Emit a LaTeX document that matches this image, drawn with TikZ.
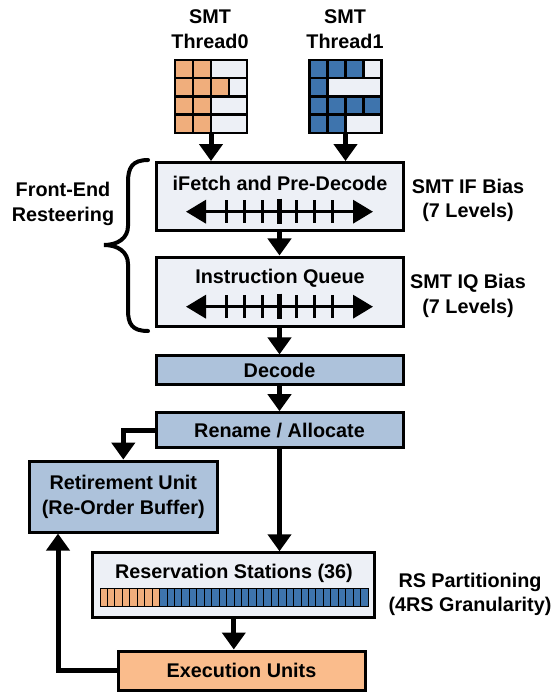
\documentclass[tikz,border=0pt]{standalone}
\usepackage{fontspec}
\setmainfont{Liberation Sans}
\usetikzlibrary{arrows.meta}
\definecolor{lightbox}{HTML}{EDF0F6}
\definecolor{midblue}{HTML}{ADC2DB}
\definecolor{orcell}{HTML}{F0AE7C}
\definecolor{blcell}{HTML}{3E74AD}
\definecolor{exorange}{HTML}{FABC8C}
\tikzset{
  every node/.style={font=\bfseries\fontsize{19.8}{24.5}\selectfont},
  lbl/.style={inner sep=0pt, align=center},
  boxl/.style={draw=black, line width=3pt, fill=lightbox, inner sep=0pt},
  boxm/.style={draw=black, line width=3pt, fill=midblue, inner sep=0pt},
  boxo/.style={draw=black, line width=3pt, fill=exorange, inner sep=0pt},
  arr/.style={line width=5pt, -{Triangle[width=23pt,length=17pt]}},
  slider/.style={line width=3.5pt, {Triangle[width=23pt,length=20pt]}-{Triangle[width=23pt,length=20pt]}},
  tick/.style={line width=3pt},
  cellor/.style={fill=orcell, draw=black, line width=2.5pt},
  cellbl/.style={fill=blcell, draw=black, line width=2.5pt},
  celllt/.style={fill=lightbox, draw=black, line width=2.5pt},
  rsor/.style={fill=orcell, draw=black, line width=0.8pt},
  rsbl/.style={fill=blcell, draw=black, line width=0.8pt},
}
\begin{document}
\begin{tikzpicture}[x=1pt,y=-1pt]
\useasboundingbox (0,0) rectangle (558,692);

% thread labels
\node[lbl] (t0lbl) at (210,29) {SMT\\Thread0};
\node[lbl] (t1lbl) at (345,29) {SMT\\Thread1};

% thread0 grid
\foreach \c in {0,1} \foreach \r in {0,1,2,3}
  \draw[cellor] (175+18*\c,60+18.25*\r) rectangle ++(18,18.25);
\draw[cellor] (211,78.25) rectangle ++(18,18.25);
\draw[celllt] (211,60) rectangle (247,78.25);
\draw[celllt] (229,78.25) rectangle (247,96.5);
\draw[celllt] (211,96.5) rectangle (247,114.75);
\draw[celllt] (211,114.75) rectangle (247,133);
\coordinate (g0) at (211,133);

% thread1 grid
\foreach \c in {0,1,2} \draw[cellbl] (309.5+18*\c,60) rectangle ++(18,18.25);
\draw[celllt] (363.5,60) rectangle (381.5,78.25);
\draw[cellbl] (309.5,78.25) rectangle ++(18,18.25);
\draw[celllt] (327.5,78.25) rectangle (381.5,96.5);
\foreach \c in {0,1,2,3} \draw[cellbl] (309.5+18*\c,96.5) rectangle ++(18,18.25);
\foreach \c in {0,1} \draw[cellbl] (309.5+18*\c,114.75) rectangle ++(18,18.25);
\draw[celllt] (345.5,114.75) rectangle (381.5,133);
\coordinate (g1) at (345.5,133);

% boxes
\node[boxl, minimum width=247pt, minimum height=67.5pt] (ifetch) at (279.5,196.3) {};
\node[boxl, minimum width=247pt, minimum height=69pt] (iq) at (279.5,291.5) {};
\node[boxm, minimum width=247pt, minimum height=28.5pt] (decode) at (279.5,370.2) {};
\node[boxm, minimum width=247pt, minimum height=35pt] (rename) at (279.5,430.2) {};
\node[boxm, minimum width=188pt, minimum height=71pt] (ret) at (123.3,496.6) {};
\node[boxl, minimum width=282pt, minimum height=65pt] (rs) at (233.8,585.3) {};
\node[boxo, minimum width=247pt, minimum height=39pt] (exec) at (241.5,670.5) {};

% box texts
\node[lbl] (ifetchtxt) at (280,183) {iFetch and Pre-Decode};
\node[lbl] (iqtxt) at (280,278) {Instruction Queue};
\node[lbl] (dectxt) at (279.5,370.2) {Decode};
\node[lbl] (rentxt) at (279.5,430.2) {Rename / Allocate};
\node[lbl] (rettxt) at (123.3,497) {Retirement Unit\\(Re-Order Buffer)};
\node[lbl] (rstxt) at (234,573) {Reservation Stations (36)};
\node[lbl] (exectxt) at (241.5,670.5) {Execution Units};

% sliders
\foreach \yy/\nm in {211.7/a,306.7/b} {
  \coordinate (sl\nm l) at (186,\yy);
  \coordinate (sl\nm r) at (373,\yy);
  \draw[slider] (sl\nm l) -- (sl\nm r);
  \foreach \xx in {226,244.3,262,296.7,314.7,332.7}
    \draw[tick] (\xx,\yy-11.5) -- (\xx,\yy+11);
  \draw[line width=4.5pt] (279.3,\yy-13) -- (279.3,\yy+12);
}

% RS bar
\foreach \i in {0,...,7} \draw[rsor] (100+7.444*\i,588) rectangle ++(7.444,18.7);
\foreach \i in {8,...,35} \draw[rsbl] (100+7.444*\i,588) rectangle ++(7.444,18.7);

% side labels
\node[lbl] (felbl) at (63,204) {Front-End\\Resteering};
\node[lbl] (iflbl) at (468,200.5) {SMT IF Bias\\(7 Levels)};
\node[lbl] (iqlbl) at (468,296) {SMT IQ Bias\\(7 Levels)};
\node[lbl] (rslbl) at (470,594.5) {RS Partitioning\\(4RS Granularity)};

% brace
\draw[line width=4pt, line cap=round]
  (148,160) .. controls (132,160) and (128,168) .. (128,182)
  -- (128,226) .. controls (128,238) and (118,245) .. (104,245)
  .. controls (118,245) and (128,252) .. (128,264)
  -- (128,310) .. controls (128,324) and (132,331) .. (148,331);

% connectors
\draw[arr] (g0) -- (g0 |- ifetch.north);
\draw[arr] (g1) -- (g1 |- ifetch.north);
\draw[arr] (ifetch.south) -- (iq.north);
\draw[arr] (iq.south) -- (decode.north);
\draw[arr] (decode.south) -- (rename.north);
\draw[arr] (rename.west) -| (ret.north);
\draw[arr] (rename.south) -- (rename.south |- rs.north);
\draw[arr] (rs.south) -- (rs.south |- exec.north);
\draw[arr] (exec.west) -| ([xshift=-65.3pt]ret.south);
\end{tikzpicture}
\end{document}
